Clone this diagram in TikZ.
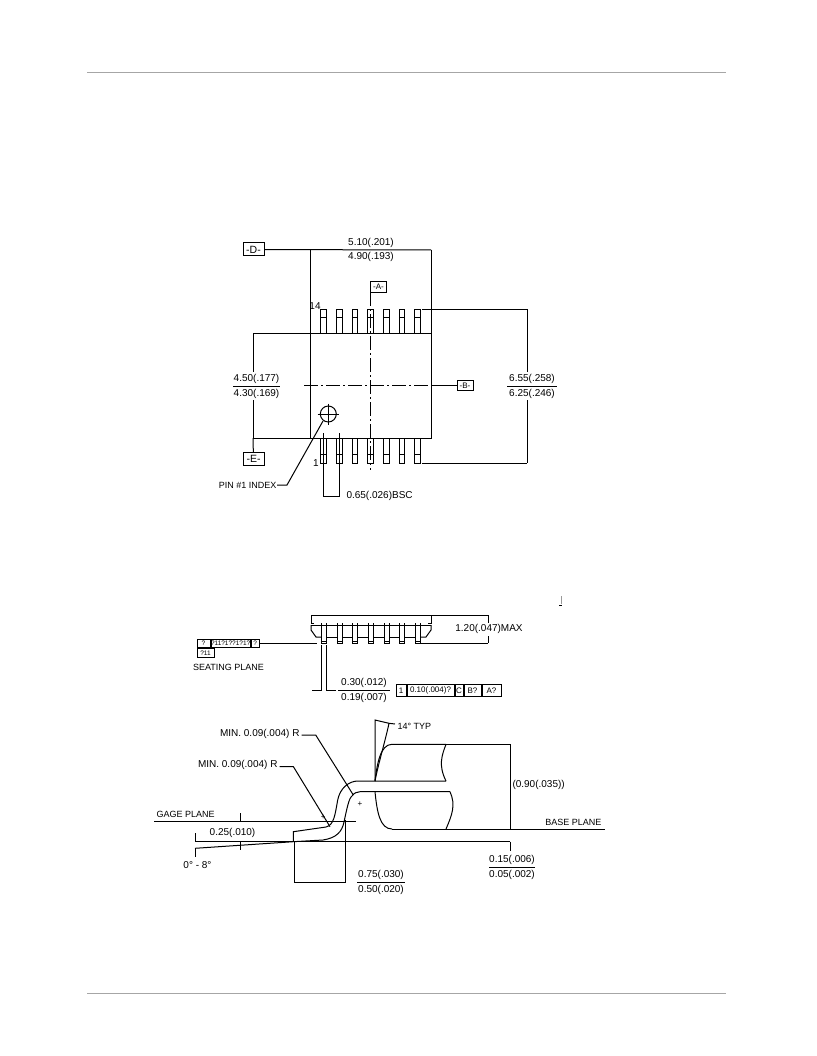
\documentclass[tikz,border=0pt]{standalone}
\usepackage{fontspec}
\setmainfont{Liberation Sans}
\usetikzlibrary{positioning}

\begin{document}
\begin{tikzpicture}[x=1pt,y=-1pt,line width=1pt,
    dim text/.style={inner sep=0pt,font=\fontsize{10}{10}\selectfont},
    cap text/.style={inner sep=0pt,font=\fontsize{9}{9}\selectfont},
    datum/.style={draw,inner sep=0pt,minimum height=13pt,minimum width=21pt,font=\fontsize{10.5}{10.5}\selectfont},
    small datum/.style={datum,minimum height=10pt,minimum width=16pt,font=\fontsize{8}{8}\selectfont},
    cell/.style={draw,inner sep=0pt,minimum height=8.5pt,font=\fontsize{6.5}{6.5}\selectfont},
    tol cell/.style={draw,inner sep=0pt,minimum height=12.5pt,font=\fontsize{8}{8}\selectfont},
    center line/.style={line width=0.8pt,dash pattern=on 14pt off 3pt on 2pt off 3pt},
    rule/.style={line width=1pt,black!35}]
    \useasboundingbox (0,0) rectangle (816,1056);

    % page rules
    \coordinate (ruleTL) at (87,73);
    \coordinate (ruleTR) at (726,73);
    \coordinate (ruleBL) at (87,993);
    \coordinate (ruleBR) at (726,993);
    \draw[rule] (ruleTL) -- (ruleTR);
    \draw[rule] (ruleBL) -- (ruleBR);

    % top view
    \coordinate (bodyNW) at (310.5,333);
    \coordinate (bodyNE) at (431,333);
    \coordinate (bodySW) at (310.5,438);
    \coordinate (bodySE) at (431,438);
    \draw (bodyNW) -- (bodyNE) -- (bodySE) -- (bodySW) -- cycle;
    \foreach \px in {323.7,339.6,355,370.3,386.3,402,417.7} {
        \draw (\px-2.8,333) -- (\px-2.8,309) -- (\px+2.8,309) -- (\px+2.8,333);
        \draw (\px-2.8,317) -- (\px+2.8,317);
        \draw (\px-2.8,438) -- (\px-2.8,463) -- (\px+2.8,463) -- (\px+2.8,438);
        \draw (\px-2.8,454) -- (\px+2.8,454);
    }

    \node[datum] (D) at (253.5,249.5) {-D-};
    \node[datum] (E) at (253.5,459) {-E-};
    \node[small datum] (A) at (378.5,287) {-A-};
    \node[small datum] (B) at (465,385.5) {-B-};

    \coordinate (topL) at (310.5,250);
    \coordinate (topR) at (431,250);
    \draw (D) -- (topR);
    \draw (topL) -- (bodyNW);
    \draw (topR) -- (bodyNE);
    \node[dim text] (lenHi) at (371,242.5) {5.10(.201)};
    \node[dim text] (lenLo) at (371,257) {4.90(.193)};

    \coordinate (Afoot) at (370.3,292);
    \coordinate (Aend) at (370.3,470);
    \draw (A.west) -| (Afoot);
    \draw[center line] (Afoot) -- (Aend);
    \coordinate (Bend) at (304,385.5);
    \coordinate (Bjoin) at (432,385.5);
    \draw[center line] (Bend) -- (Bjoin);
    \draw (Bjoin) -- (B);

    % width across the body
    \coordinate (wHi) at (253,333);
    \coordinate (wLo) at (253,438);
    \draw (wHi) -- (bodyNW);
    \draw (wLo) -- (bodySW);
    \node[dim text] (widHi) at (256.5,378.5) {4.50(.177)};
    \node[dim text] (widLo) at (256.5,393.5) {4.30(.169)};
    \draw (233,386) -- (280,386);
    \draw (wHi) -- (253,372);
    \draw (253,400) -- (wLo);
    \draw (wLo) -- (E);

    % width across the leads
    \coordinate (leadHi) at (527,309.3);
    \coordinate (leadLo) at (527,463.3);
    \draw (422,309.3) -- (leadHi);
    \draw (422,463.3) -- (leadLo);
    \node[dim text] (ldHi) at (532,378.5) {6.55(.258)};
    \node[dim text] (ldLo) at (532,393.5) {6.25(.246)};
    \draw (507,386) -- (557,386);
    \draw (leadHi) -- (527,372);
    \draw (527,400) -- (leadLo);

    % pin labels and index
    \node[dim text] (pin14) at (315,306) {14};
    \node[dim text] (pin1) at (316,463) {1};
    \draw (328.3,414) circle (8);
    \draw[line width=0.7pt] (317.5,414) -- (339,414) (328.3,403.5) -- (328.3,424.5);
    \node[cap text,anchor=east] (index) at (277,485) {PIN \#1 INDEX};
    \coordinate (indexTip) at (323,421);
    \draw (index.east) -- (287,485) -- (indexTip);

    % pitch
    \coordinate (pitchL) at (323.5,496);
    \coordinate (pitchR) at (339.5,496);
    \draw (323.5,433) -- (pitchL) -- (pitchR) -- (339.5,433);
    \node[dim text,anchor=west] (pitch) at (346,496) {0.65(.026)BSC};

    % side view
    \draw (314,623) -- (311,623) -- (311,615) -- (431,615) -- (431,623) -- (428,623);
    \draw (311,625) -- (431,625);
    \draw (311,625) -- (311,630) -- (316,637) -- (321.4,637);
    \draw (431,625) -- (431,630) -- (426,637) -- (420.3,637);
    \foreach \px in {323.9,339.5,355,370.5,386.5,402,417.8} {
        \draw (\px-2.5,623) -- (\px-2.5,643) -- (\px+2.5,643) -- (\px+2.5,623);
        \draw (\px-2.5,641) -- (\px+2.5,641);
    }
    \foreach \px/\qx in {326.4/337,342/352.5,357.5/368,373/384,389/399.5,404.5/415.3} {
        \draw (\px,637) -- (\qx,637);
    }
    \coordinate (maxHi) at (488,615);
    \coordinate (maxLo) at (488,643);
    \draw (431,615) -- (maxHi);
    \draw (421,643) -- (maxLo);
    \node[dim text] (height) at (489,629) {1.20(.047)MAX};
    \draw (maxHi) -- (488,623);
    \draw (488,636) -- (maxLo);

    % seating plane
    \node[cell,minimum width=13pt] (seatA) at (203.5,643.5) {?};
    \node[cell,minimum width=38pt,right=0pt of seatA] (seatB) {?11?1??1?1?};
    \node[cell,minimum width=8pt,right=0pt of seatB] (seatC) {?};
    \node[cell,minimum width=17pt,anchor=north west] (seatD) at (seatA.south west) {?11};
    \coordinate (seatEnd) at (317,643.5);
    \draw (seatC.east) -- (seatEnd);
    \node[cap text] (seating) at (228.5,667) {SEATING PLANE};

    % lead thickness
    \coordinate (thickL) at (321.7,690.6);
    \coordinate (thickR) at (326.7,690.6);
    \draw (312,690.6) -- (thickL) -- (321.7,645);
    \draw (336,690.6) -- (thickR) -- (326.7,645);
    \node[dim text] (thickHi) at (364,683) {0.30(.012)};
    \node[dim text] (thickLo) at (364,698) {0.19(.007)};
    \draw (338,690.6) -- (390,690.6);
    \node[tol cell,minimum width=10pt] (tolA) at (401,690.5) {1};
    \node[tol cell,minimum width=47pt,right=0pt of tolA] (tolB) {0.10(.004)?};
    \node[tol cell,minimum width=8pt,right=0pt of tolB] (tolC) {C};
    \node[tol cell,minimum width=17pt,right=0pt of tolC] (tolD) {B?};
    \node[tol cell,minimum width=19pt,right=0pt of tolD] (tolE) {A?};

    % stray mark
    \coordinate (markHi) at (561,596);
    \coordinate (markLo) at (561,604);
    \draw[line width=0.6pt,black!40] (markHi) -- (markLo);
    \draw[line width=0.8pt] (559,605.5) -- (562,605.5);

    % lead detail
    \draw (293.3,841.7) -- (293.3,831.7) -- (326,827)
        .. controls (334,825) and (335,815) .. (337.7,800)
        .. controls (340,788) and (349,781) .. (358,781) -- (446,781);
    \draw (293.3,841.7) -- (323,840)
        .. controls (336,838) and (342,832) .. (344,822)
        .. controls (347,808) and (349,798) .. (352,796)
        .. controls (354,793) and (357,791.7) .. (360,791.7) -- (450,791.7);
    \draw (375,781) .. controls (377,765) and (380,744.3) .. (392,744.3) -- (446,744.3);
    \draw (375,791.7) .. controls (377,812) and (380,829) .. (392,829);
    \draw (446,744.3) .. controls (442,755) and (438,765) .. (446,781);
    \draw (450,791.7) .. controls (456,805) and (452,815) .. (446,829);

    % 14 degree callout
    \coordinate (angleTop) at (375,720);
    \coordinate (angleTip) at (389,723.3);
    \draw (375,781) -- (angleTop) -- (angleTip);
    \draw (375,781) .. controls (378,765) and (385,742) .. (angleTip) -- (395,724);
    \node[cap text,anchor=west] (typ) at (397,726) {14° TYP};

    % stand-off height and planes
    \coordinate (planeEnd) at (605,829);
    \coordinate (standEnd) at (510,841.7);
    \draw (392,829) -- (planeEnd);
    \draw (446,744.3) -- (510,744.3);
    \draw (510,744.3) -- (510,829);
    \node[dim text,anchor=west] (standoff) at (512,785) {(0.90(.035))};
    \node[cap text,anchor=east] (base) at (602,822) {BASE PLANE};
    \coordinate (gageL) at (154,821);
    \coordinate (gageR) at (355.7,821);
    \draw (gageL) -- (gageR);
    \node[cap text,anchor=west] (gage) at (156,814) {GAGE PLANE};
    \coordinate (seatL) at (195,841.7);
    \draw (seatL) -- (standEnd);
    \draw (seatL) -- (195,833);
    \draw (195,848.3) -- (293.3,841.7);
    \draw (195,848.3) -- (195,857);
    \draw (240,813) -- (240,821);
    \draw (240,841.7) -- (240,850);
    \node[dim text] (gageDist) at (232.5,832.5) {0.25(.010)};
    \node[dim text] (angle) at (197.5,865) {0° - 8°};
    \draw (standEnd) -- (510,851);
    \node[dim text] (offHi) at (512,859.5) {0.15(.006)};
    \node[dim text] (offLo) at (512,875) {0.05(.002)};
    \draw (489,867) -- (535,867);

    % foot length
    \coordinate (footL) at (294.3,882.3);
    \coordinate (footR) at (345,882.3);
    \draw (294.3,841.7) -- (footL) -- (footR) -- (345,820);
    \node[dim text] (footHi) at (381,874.5) {0.75(.030)};
    \node[dim text] (footLo) at (381,889.5) {0.50(.020)};
    \draw (357,882) -- (405,882);

    % radius callouts
    \node[dim text,anchor=east] (radA) at (300,734) {MIN. 0.09(.004) R};
    \node[dim text,anchor=east] (radB) at (278,765) {MIN. 0.09(.004) R};
    \draw (radA.east) ++(1.5,1) -- (315.7,735) -- (353.3,795);
    \draw (radB.east) ++(1.5,1.5) -- (293.3,766.5) -- (330,826.7);
    \node[inner sep=0pt,font=\fontsize{8}{8}\selectfont] (plusA) at (360,804) {+};
    \node[inner sep=0pt,font=\fontsize{8}{8}\selectfont] (plusB) at (323.3,817) {+};
\end{tikzpicture}
\end{document}
